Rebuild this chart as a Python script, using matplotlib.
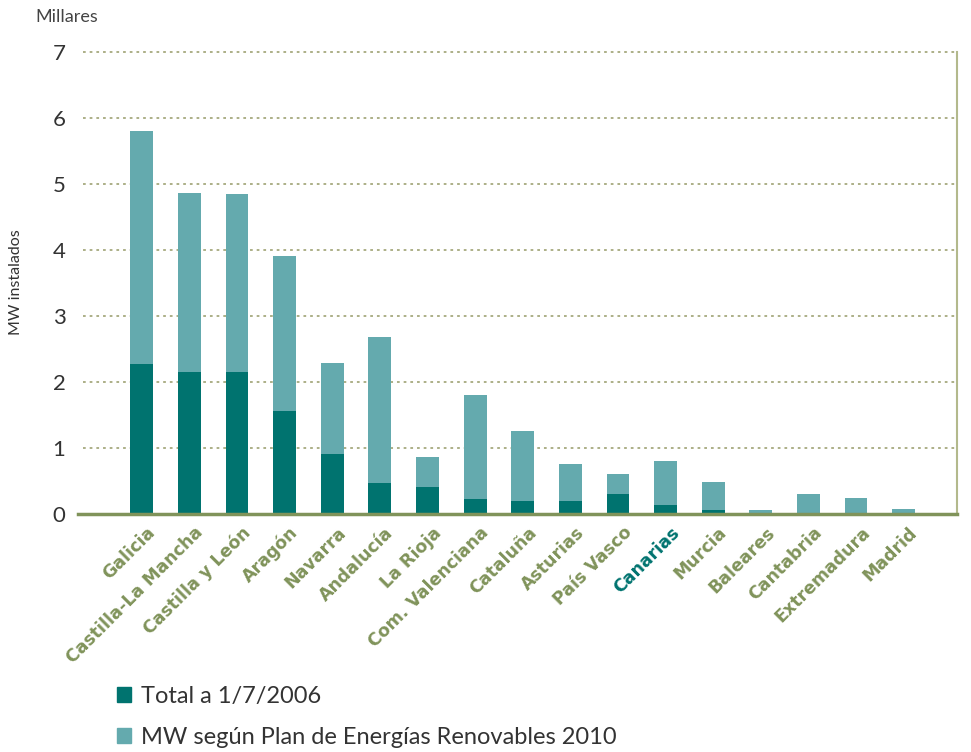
import matplotlib
matplotlib.use("Agg")
import matplotlib.pyplot as plt
import matplotlib.transforms as mtransforms
from matplotlib.patches import Patch

# datos (millares de MW)
regiones = ["Galicia", "Castilla-La Mancha", "Castilla y León", "Aragón", "Navarra",
            "Andalucía", "La Rioja", "Com. Valenciana", "Cataluña", "Asturias",
            "País Vasco", "Canarias", "Murcia", "Baleares", "Cantabria",
            "Extremadura", "Madrid"]
plan_2010 = [5.80, 4.86, 4.85, 3.91, 2.29, 2.68, 0.86, 1.80, 1.26, 0.76,
             0.61, 0.80, 0.48, 0.06, 0.30, 0.24, 0.08]
total_2006 = [2.27, 2.15, 2.15, 1.56, 0.91, 0.47, 0.41, 0.23, 0.20, 0.20,
              0.30, 0.14, 0.06, 0.0, 0.0, 0.0, 0.0]
yticks = [0, 1, 2, 3, 4, 5, 6, 7]

oscuro = "#00736f"
claro = "#64aaae"
oliva = "#80935a"
rejilla = "#a6a97e"
fuente = "Lato"

fig = plt.figure(figsize=(9.71, 7.52), dpi=100)
ax = fig.add_axes([0.0803, 0.3165, 0.9053, 0.6144])

x = list(range(len(regiones)))
ax.bar(x, plan_2010, width=0.48, color=claro, zorder=2)
ax.bar(x, total_2006, width=0.48, color=oscuro, zorder=3)

ax.set_xlim(-1.34, 17.12)
ax.set_ylim(0, 7)
ax.set_yticks(yticks)
ax.set_yticklabels([str(v) for v in yticks], fontsize=16, family=fuente, color="#333333")
ax.tick_params(axis="y", length=0, pad=9)

# rejilla punteada
for v in yticks[1:]:
    ax.plot([-1.23, 17.12], [v, v], color=rejilla, lw=1.3, ls=(0, (1.5, 2.2)), zorder=1,
            clip_on=False)

for s in ["top", "left"]:
    ax.spines[s].set_visible(False)
ax.spines["bottom"].set_color(oliva)
ax.spines["bottom"].set_linewidth(2.5)
ax.spines["bottom"].set_zorder(4)
ax.spines["right"].set_color("#b3b98c")
ax.spines["right"].set_linewidth(1.5)

# etiquetas de regiones giradas 45 grados
ax.set_xticks(x)
ax.set_xticklabels([])
ax.tick_params(axis="x", length=0)
desplaz = mtransforms.ScaledTranslation(11 / 100, -16 / 100, fig.dpi_scale_trans)
trans = ax.get_xaxis_transform() + desplaz
for i, nombre in enumerate(regiones):
    color = oscuro if nombre == "Canarias" else oliva
    ax.text(i, 0, nombre, transform=trans, rotation=45, ha="right", va="center",
            rotation_mode="anchor", fontsize=12.5, fontweight="bold",
            family="DejaVu Sans", color=color)

fig.text(0.036, 0.977, "Millares", fontsize=13, family=fuente, color="#444444",
         ha="left", va="center")
fig.text(0.016, 0.625, "MW instalados", fontsize=11.5, family=fuente, color="#333333",
         rotation=90, ha="center", va="center")

handles = [Patch(color=oscuro, label="Total a 1/7/2006"),
           Patch(color=claro, label="MW según Plan de Energías Renovables 2010")]
fig.legend(handles=handles, loc="upper left", bbox_to_anchor=(0.108, 0.104), frameon=False,
           prop={"family": fuente, "size": 17}, labelcolor="#333333",
           handlelength=0.6, handleheight=0.6, handletextpad=0.45, labelspacing=0.85,
           borderpad=0)

fig.savefig("out.png", dpi=100)
